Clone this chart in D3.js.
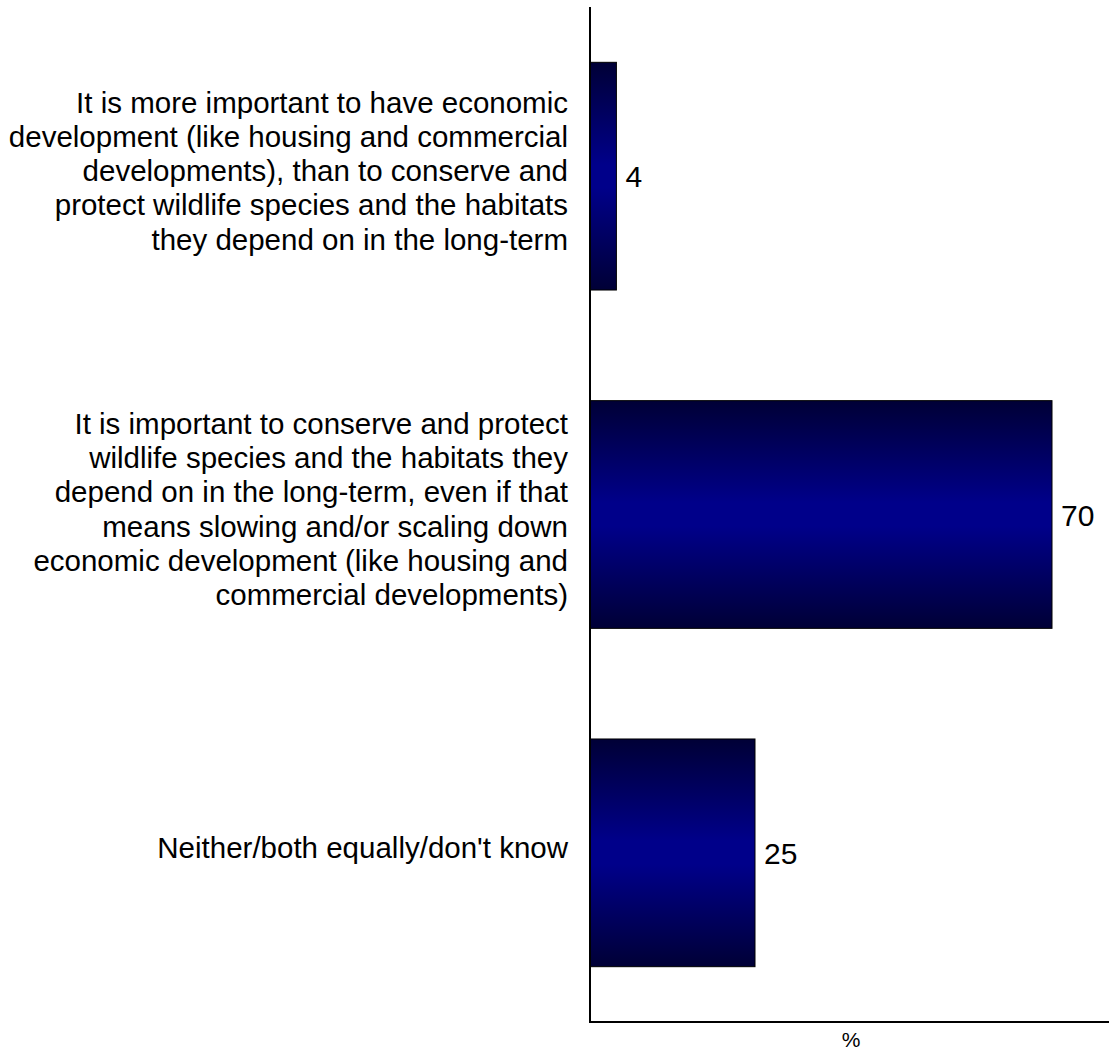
<!DOCTYPE html>
<html>
<head>
<meta charset="utf-8">
<script src="https://cdn.jsdelivr.net/npm/d3@7/dist/d3.min.js"></script>
<style>
  html, body { margin: 0; padding: 0; background: #fff; }
  svg { display: block; }
  text { font-family: "Liberation Sans", Arial, sans-serif; fill: #000; }
</style>
</head>
<body>
<svg id="chart" width="1109" height="1053"></svg>
<script>
const categories = [
  "It is more important to have economic development (like housing and commercial developments), than to conserve and protect wildlife species and the habitats they depend on in the long-term",
  "It is important to conserve and protect wildlife species and the habitats they depend on in the long-term, even if that means slowing and/or scaling down economic development (like housing and commercial developments)",
  "Neither/both equally/don't know"
];
const categoryLines = [
  ["It is more important to have economic", "development (like housing and commercial", "developments), than to conserve and", "protect wildlife species and the habitats", "they depend on in the long-term"],
  ["It is important to conserve and protect", "wildlife species and the habitats they", "depend on in the long-term, even if that", "means slowing and/or scaling down", "economic development (like housing and", "commercial developments)"],
  ["Neither/both equally/don't know"]
];
const values = [4, 70, 25];
const axisTitle = "%";
const xDomain = [0, 80];

(function () {
const svg = d3.select("#chart");
const mLeft = 590, mTop = 7, mBottom = 1022, plotW = 528;

const x = d3.scaleLinear().domain(xDomain).range([mLeft, mLeft + plotW]);
const y = d3.scaleBand().domain(categories).range([mTop, mBottom]).paddingInner(0.327).paddingOuter(0.1635);

const defs = svg.append("defs");
const grad = defs.append("linearGradient").attr("id", "barGrad")
  .attr("x1", 0).attr("y1", 0).attr("x2", 0).attr("y2", 1);
grad.append("stop").attr("offset", "0%").attr("stop-color", "#000036");
grad.append("stop").attr("offset", "45%").attr("stop-color", "#00008a");
grad.append("stop").attr("offset", "55%").attr("stop-color", "#00008a");
grad.append("stop").attr("offset", "100%").attr("stop-color", "#000036");

// bars
svg.append("g").selectAll("rect").data(values).join("rect")
  .attr("x", x(0))
  .attr("y", (d, i) => y(categories[i]))
  .attr("width", d => x(d) - x(0))
  .attr("height", y.bandwidth())
  .attr("fill", "url(#barGrad)")
  .attr("stroke", "#000")
  .attr("stroke-width", 1);

// axes
svg.append("line").attr("x1", x(0)).attr("x2", x(0)).attr("y1", mTop).attr("y2", mBottom)
  .attr("stroke", "#000").attr("stroke-width", 2);
svg.append("line").attr("x1", x(0) - 1).attr("x2", x(xDomain[1])).attr("y1", mBottom).attr("y2", mBottom)
  .attr("stroke", "#000").attr("stroke-width", 2);

// value labels
svg.append("g").selectAll("text").data(values).join("text")
  .attr("x", d => x(d) + 9)
  .attr("y", (d, i) => y(categories[i]) + y.bandwidth() / 2 + 11)
  .attr("font-size", 30)
  .text(d => d);

// category labels
const lh = 34.3;
categoryLines.forEach((lines, i) => {
  const cy = y(categories[i]) + y.bandwidth() / 2;
  const t = svg.append("text")
    .attr("text-anchor", "end")
    .attr("font-size", 29.5);
  lines.forEach((ln, j) => {
    t.append("tspan")
      .attr("x", 568)
      .attr("y", cy + (j - (lines.length - 1) / 2) * lh + 5)
      .text(ln);
  });
});

// axis title
svg.append("text").attr("x", 851).attr("y", 1047)
  .attr("text-anchor", "middle").attr("font-size", 21).text(axisTitle);
})();
</script>
</body>
</html>
